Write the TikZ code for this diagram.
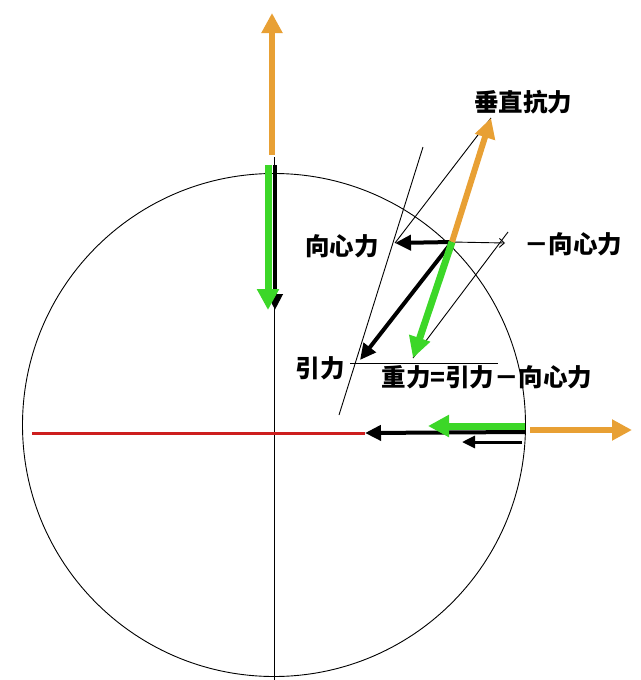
\documentclass[tikz,border=0pt]{standalone}
\usepackage{fontspec}
\newfontfamily\cjk{Noto Sans CJK SC}
\usetikzlibrary{arrows.meta, positioning, calc}
\definecolor{forceorange}{RGB}{232,160,52}
\definecolor{forcegreen}{RGB}{60,215,40}
\definecolor{axisred}{RGB}{205,30,30}

\begin{document}
\begin{tikzpicture}[x=1pt, y=-1pt,
	every node/.style={font=\cjk\bfseries\fontsize{24.5}{24.5}\selectfont, inner sep=0pt},
	guide/.style={line width=0.9pt},
	orangearrow/.style={draw=forceorange, line width=6pt, -{Triangle[length=20pt, width=20pt]}},
	greenarrow/.style={draw=forcegreen, line width=7pt, -{Triangle[length=21pt, width=21pt]}},
	blackarrow/.style={line width=4pt, -{Triangle[length=16pt, width=15pt]}},
	smallarrow/.style={line width=3pt, -{Triangle[length=13pt, width=12pt]}}]

				\useasboundingbox (0,0) rectangle (640,680);

				% earth and axes
				\coordinate (O) at (274,425);
				\draw[guide] (O) circle [radius=251.5pt];
				\coordinate (VT) at (274,157);
				\coordinate (VB) at (274,680);
				\draw[guide] (VT) -- (VB);
				\coordinate (RL) at (32,433);
				\coordinate (RR) at (365,433);
				\draw[axisred, line width=3pt] (RL) -- (RR);

				% pole
				\coordinate (PN1) at (272,155);
				\coordinate (PN2) at (272,13);
				\draw[orangearrow] (PN1) -- (PN2);
				\coordinate (PF1) at (275,165);
				\coordinate (PF2) at (275,310);
				\draw[blackarrow] (PF1) -- (PF2);
				\coordinate (PG1) at (268,165);
				\coordinate (PG2) at (268,310);
				\draw[greenarrow] (PG1) -- (PG2);

				% equator
				\coordinate (E) at (525,432);
				\draw[blackarrow] (E) -- (RR);
				\coordinate (EG1) at (525,426);
				\coordinate (EG2) at (428,426);
				\draw[greenarrow] (EG1) -- (EG2);
				\coordinate (EC1) at (522,442);
				\coordinate (EC2) at (462,442);
				\draw[smallarrow] (EC1) -- (EC2);
				\coordinate (EN1) at (530,430);
				\coordinate (EN2) at (632,430);
				\draw[orangearrow] (EN1) -- (EN2);

				% mid latitude
				\coordinate (P) at (452,242);
				\coordinate (NT) at (491,118);
				\coordinate (GT) at (413,358);
				\coordinate (FT) at (360,360);
				\coordinate (CT) at (395,243);
				\coordinate (MT) at (505,243);
				\coordinate (ME) at (508,232);
				\coordinate (TL1) at (423,147);
				\coordinate (TL2) at (339,415);
				\coordinate (HL1) at (350,363);
				\coordinate (HL2) at (498,363);

				\draw[guide] (TL1) -- (TL2);
				\draw[guide] (CT) -- (NT);
				\draw[guide] (ME) -- (GT);
				\draw[guide] (HL1) -- (HL2);
				\draw[guide, -{Straight Barb[length=5pt, width=9pt]}] (P) -- (MT);
				\draw[blackarrow] (P) -- (CT);
				\draw[blackarrow] (P) -- (FT);
				\draw[orangearrow] (P) -- (NT);
				\draw[greenarrow] (P) -- (GT);

				% labels
				\node (NL) at (523,102) {垂直抗力};
				\node (CL) at (342,246) {向心力};
				\node (MCL) at (573,244) {－向心力};
				\node (FL) at (320,368) {引力};
				\node (WL) at (487,377) {重力=引力－向心力};

\end{tikzpicture}
\end{document}
